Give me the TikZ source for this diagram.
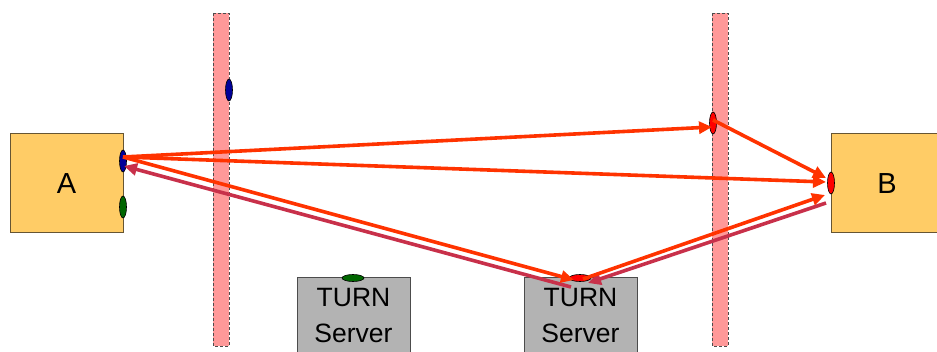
\documentclass[tikz,border=0pt]{standalone}
\usepackage{fontspec}
\setmainfont{Liberation Sans}
\usetikzlibrary{arrows.meta,shapes.geometric}
\definecolor{arr}{HTML}{FF3300}
\definecolor{crim}{HTML}{C8304A}
\definecolor{fwfill}{HTML}{FF9999}
\definecolor{hostfill}{HTML}{FFCC66}
\definecolor{hostline}{HTML}{665533}
\definecolor{turnfill}{HTML}{B3B3B3}
\definecolor{pblue}{HTML}{000099}
\definecolor{pgreen}{HTML}{006600}
\definecolor{pred}{HTML}{FF0000}
\tikzset{
  fwall/.style={draw=black!70, dashed, dash pattern=on 3pt off 2pt, fill=fwfill, line width=0.8pt},
  hostbox/.style={draw=hostline, fill=hostfill, line width=1pt},
  turnbox/.style={draw=black!70, fill=turnfill, line width=1pt},
  vpin/.style={ellipse, draw=black, line width=0.6pt, minimum width=7pt, minimum height=22pt, inner sep=0pt},
  hpin/.style={ellipse, draw=black, line width=0.6pt, minimum width=22pt, minimum height=7pt, inner sep=0pt},
  orarrow/.style={draw=arr, line width=3.6pt, -{Triangle[length=13pt,width=12pt]}},
  crarrow/.style={draw=crim, line width=3.6pt, -{Triangle[length=13pt,width=12pt]}},
  bigtxt/.style={font=\fontsize{29}{34}\selectfont},
  turntxt/.style={font=\fontsize{26.5}{36}\selectfont, align=center},
}
\begin{document}
\begin{tikzpicture}[x=1pt,y=-1pt]
\useasboundingbox (0,0) rectangle (937,352);
% firewalls
\draw[fwall] (213,13) rectangle (229,346);
\draw[fwall] (712,13) rectangle (728,346);
% hosts
\draw[hostbox] (10,134) rectangle (123,233);
\node[bigtxt] (A) at (66.5,184) {A};
\draw[hostbox] (831,134) rectangle (944,233);
\node[bigtxt] (B) at (887,184) {B};
% TURN servers
\draw[turnbox] (297,278) rectangle (410,360);
\node[turntxt] (T1) at (353.5,316) {TURN\\Server};
\draw[turnbox] (524,278) rectangle (637,360);
\node[turntxt] (T2) at (580.5,316) {TURN\\Server};
% pins
\node[vpin, fill=pblue] (pa) at (123,161) {};
\node[vpin, fill=pgreen] (ga) at (123,207) {};
\node[vpin, fill=pblue] (pf1) at (229,90) {};
\node[vpin, fill=pred] (pf2) at (713,123) {};
\node[vpin, fill=pred] (pb) at (831,183) {};
\node[hpin, fill=pgreen] (gt1) at (353,278) {};
\node[hpin, fill=pred] (pt2) at (580,278) {};
% connector ends
\coordinate (a1) at (123,157);
\coordinate (f2in) at (712,127);
\coordinate (f2out) at (713,120);
\coordinate (b1) at (826,178);
\coordinate (b2) at (826,182);
\coordinate (b3) at (825,195);
\coordinate (b4) at (826,203);
\coordinate (t2in) at (574,280);
\coordinate (t2out) at (583,279);
\coordinate (t2r) at (588,283);
\coordinate (t2l) at (571,287);
\coordinate (a2) at (124,166);
% arrows
\draw[crarrow] (b4) -- (t2r);
\draw[crarrow] (t2l) -- (a2);
\draw[orarrow] (a1) -- (f2in);
\draw[orarrow] (f2out) -- (b1);
\draw[orarrow] (a1) -- (b2);
\draw[orarrow] (a1) -- (t2in);
\draw[orarrow] (t2out) -- (b3);
\end{tikzpicture}
\end{document}
